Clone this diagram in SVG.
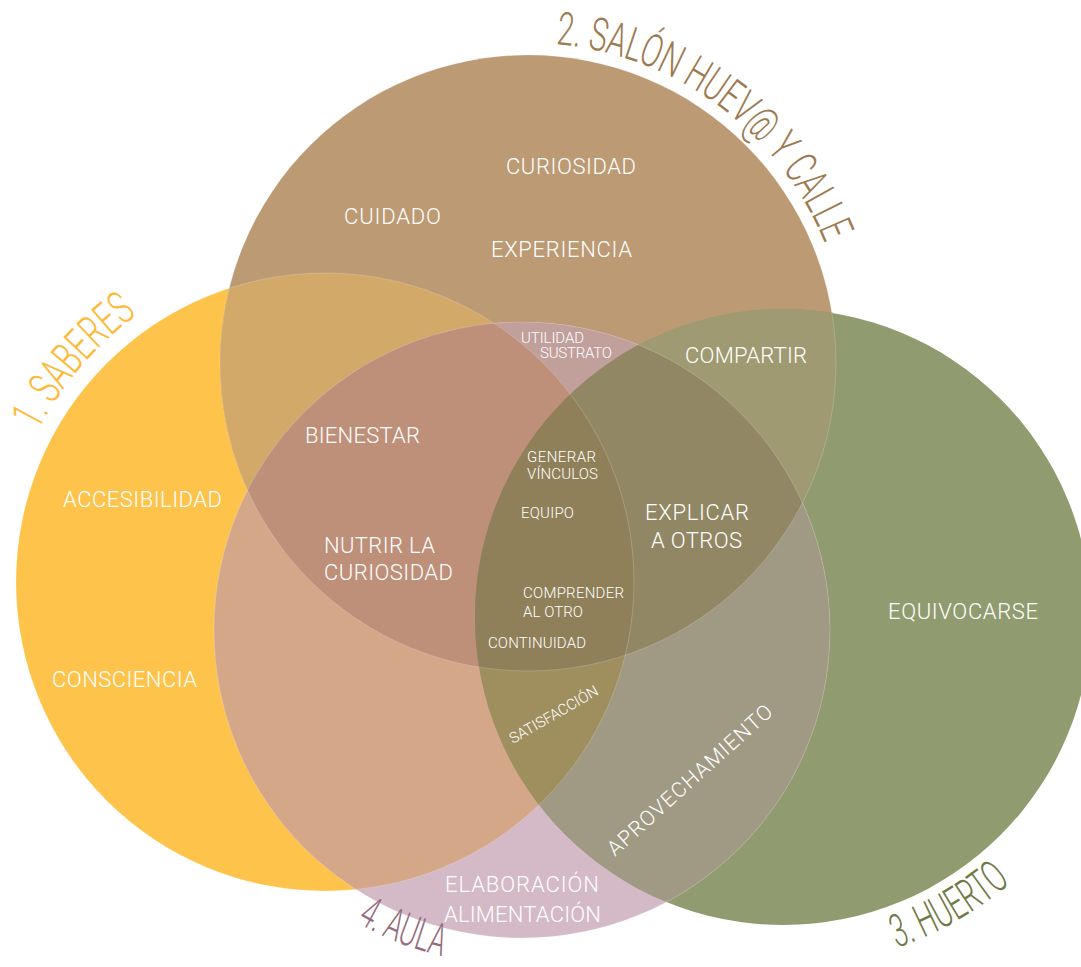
<svg xmlns="http://www.w3.org/2000/svg" width="1081" height="967" viewBox="0 0 1081 967">
  <style>
    .lbl { font-family: Roboto, "Liberation Sans", Arial, sans-serif; font-weight: 300; fill: #ffffff; }
    .big { font-size: 22px; }
    .small { font-size: 15px; }
    .title { font-family: Roboto, "DejaVu Sans Condensed", "Liberation Sans", sans-serif; font-weight: 300; font-size: 46px; }
  </style>
  <defs>
    <circle id="cY" cx="325" cy="582" r="309"/>
    <circle id="cT" cx="528" cy="363" r="308"/>
    <circle id="cG" cx="783" cy="617" r="308"/>
    <circle id="cP" cx="522" cy="630" r="308"/>
    <clipPath id="clipY"><use href="#cY"/></clipPath>
    <clipPath id="clipT"><use href="#cT"/></clipPath>
    <clipPath id="clipG"><use href="#cG"/></clipPath>
    <clipPath id="clipP"><use href="#cP"/></clipPath>
    <!-- arcs carrying the circle titles -->
    <path id="arcT" d="M 555.9 44.2 A 320 320 0 0 1 828.7 253.6"/>
    <path id="arcY" d="M 38 431 A 329 329 0 0 1 147 308"/>
    <path id="arcG" d="M 897 947.9 A 350 350 0 0 0 1017.2 877.1"/>
    <path id="arcP" d="M 356.6 922.5 A 336 336 0 0 0 443.6 956.7"/>
  </defs>

  <!-- base discs with their titles -->
  <g id="saberes">
    <use href="#cY" fill="#FEC34B"/>
    <text class="title" fill="#FDBA38"><textPath href="#arcY" textLength="154" lengthAdjust="spacingAndGlyphs">1. SABERES</textPath></text>
  </g>
  <g id="salon">
    <use href="#cT" fill="#BC9A74"/>
    <g class="title" fill="#9E7A50">
      <text><textPath href="#arcT" textLength="24" lengthAdjust="spacingAndGlyphs">2.</textPath></text>
      <text><textPath href="#arcT" startOffset="31.3" textLength="93.3" lengthAdjust="spacingAndGlyphs">SALÓN</textPath></text>
      <text><textPath href="#arcT" startOffset="132" textLength="101.5" lengthAdjust="spacingAndGlyphs">HUEV@</textPath></text>
      <text><textPath href="#arcT" startOffset="240.8" textLength="17.6" lengthAdjust="spacingAndGlyphs">Y</textPath></text>
      <text><textPath href="#arcT" startOffset="265.7" textLength="86.3" lengthAdjust="spacingAndGlyphs">CALLE</textPath></text>
    </g>
  </g>
  <g id="huerto">
    <use href="#cG" fill="#919B70"/>
    <text class="title" fill="#6F7A45"><textPath href="#arcG" textLength="132" lengthAdjust="spacingAndGlyphs">3. HUERTO</textPath></text>
  </g>
  <g id="aula">
    <use href="#cP" fill="#D4BAC6"/>
    <g class="title" fill="#946C7D" style="font-size:45px">
      <text><textPath href="#arcP" textLength="21.2" lengthAdjust="spacingAndGlyphs">4.</textPath></text>
      <text><textPath href="#arcP" startOffset="27.6" textLength="64.4" lengthAdjust="spacingAndGlyphs">AULA</textPath></text>
    </g>
  </g>

  <!-- overlap regions, painted from pairs up to the four-way centre -->
  <g id="overlaps">
    <g clip-path="url(#clipY)"><use href="#cT" fill="#D3A96A"/></g>
    <g clip-path="url(#clipY)"><use href="#cP" fill="#D4A789"/></g>
    <g clip-path="url(#clipT)"><use href="#cP" fill="#C19F9B"/></g>
    <g clip-path="url(#clipT)"><use href="#cG" fill="#9F9A72"/></g>
    <g clip-path="url(#clipP)"><use href="#cG" fill="#A09A84"/></g>
    <g clip-path="url(#clipY)"><g clip-path="url(#clipT)"><use href="#cP" fill="#BE8F79"/></g></g>
    <g clip-path="url(#clipT)"><g clip-path="url(#clipP)"><use href="#cG" fill="#928764"/></g></g>
    <g clip-path="url(#clipY)"><g clip-path="url(#clipP)"><use href="#cG" fill="#9F8F5F"/></g></g>
    <g clip-path="url(#clipY)"><g clip-path="url(#clipT)"><g clip-path="url(#clipP)"><use href="#cG" fill="#8F8059"/></g></g></g>
  </g>

  <!-- faint rims -->
  <g id="rims" fill="none" stroke="#ffffff" stroke-opacity="0.18" stroke-width="1">
    <use href="#cY"/>
    <use href="#cT"/>
    <use href="#cP"/>
  </g>

  <!-- labels -->
  <g id="labels" class="lbl">
    <text class="big" x="506" y="174" textLength="130">CURIOSIDAD</text>
    <text class="big" x="344" y="224" textLength="97">CUIDADO</text>
    <text class="big" x="491" y="257" textLength="141">EXPERIENCIA</text>
    <text class="big" x="63" y="507" textLength="159">ACCESIBILIDAD</text>
    <text class="big" x="52" y="687" textLength="145">CONSCIENCIA</text>
    <text class="big" x="305" y="443" textLength="115">BIENESTAR</text>
    <text class="big" x="324" y="553" textLength="111">NUTRIR LA</text>
    <text class="big" x="324" y="580" textLength="129">CURIOSIDAD</text>
    <text class="big" x="685" y="363" textLength="122">COMPARTIR</text>
    <text class="big" x="645" y="520" textLength="104">EXPLICAR</text>
    <text class="big" x="651" y="548" textLength="91">A OTROS</text>
    <text class="big" x="888" y="619" textLength="150">EQUIVOCARSE</text>
    <text class="big" x="445" y="892" textLength="154">ELABORACIÓN</text>
    <text class="big" x="444" y="922" textLength="157">ALIMENTACIÓN</text>
    <text class="small" x="521" y="343" textLength="63">UTILIDAD</text>
    <text class="small" x="540" y="358" textLength="72">SUSTRATO</text>
    <text class="small" x="527" y="462" textLength="69">GENERAR</text>
    <text class="small" x="527" y="479" textLength="71">VÍNCULOS</text>
    <text class="small" x="521" y="518" textLength="53">EQUIPO</text>
    <text class="small" x="523" y="598" textLength="101">COMPRENDER</text>
    <text class="small" x="523" y="617" textLength="60">AL OTRO</text>
    <text class="small" x="488" y="648" textLength="98">CONTINUIDAD</text>
    <text class="small" transform="translate(513 744) rotate(-30)" textLength="100">SATISFACCIÓN</text>
    <text transform="translate(615 857) rotate(-42)" style="font-size:21px" textLength="214">APROVECHAMIENTO</text>
  </g>
</svg>
